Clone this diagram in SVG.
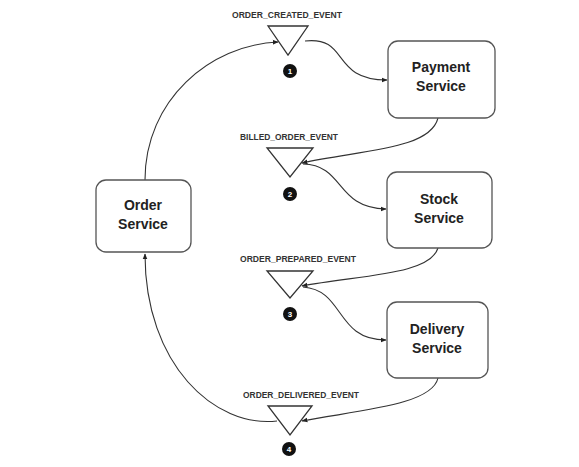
<svg xmlns="http://www.w3.org/2000/svg" width="579" height="467" viewBox="0 0 579 467">
<defs>
<marker id="ah" viewBox="0 0 10 10" refX="9" refY="5" markerWidth="6" markerHeight="6" orient="auto" markerUnits="userSpaceOnUse">
<path d="M0,1 L10,5 L0,9 z" fill="#222"/>
</marker>
<style>
.box{fill:#fff;stroke:#555;stroke-width:1.3}
.tri{fill:#fff;stroke:#333;stroke-width:1.3}
.conn{fill:none;stroke:#333;stroke-width:1.1;marker-end:url(#ah)}
.lbl{font-family:"Liberation Sans",Arial,sans-serif;font-size:14px;font-weight:bold;fill:#222;text-anchor:middle}
.evt{font-family:"Liberation Sans",Arial,sans-serif;font-size:9px;font-weight:bold;fill:#333;text-anchor:middle}
.num{font-family:"Liberation Sans",Arial,sans-serif;font-size:8px;font-weight:bold;fill:#fff;text-anchor:middle}
.dot{fill:#111}
</style>
</defs>
<rect width="579" height="467" fill="#fff"/>
<g id="connectors">
<path class="conn" d="M145,180 C145,100 210,45 278,42"/>
<path class="conn" d="M305,41 C350,36 330,80 387,80"/>
<path class="conn" d="M438,118 C430,150 360,150 302,163"/>
<path class="conn" d="M303,164 C345,165 335,208 386,209"/>
<path class="conn" d="M438,248 C430,275 360,275 302,286"/>
<path class="conn" d="M303,287 C345,290 335,340 386,340"/>
<path class="conn" d="M438,378 C432,405 360,410 302,421"/>
<path class="conn" d="M277,421 C215,428 145,365 145,254"/>
</g>
<g id="order-service">
<rect class="box" x="96" y="180" width="95" height="72" rx="10"/>
<text class="lbl" x="143" y="210">Order</text>
<text class="lbl" x="143" y="229">Service</text>
</g>
<g id="payment-service">
<rect class="box" x="388" y="41" width="107" height="77" rx="10"/>
<text class="lbl" x="441" y="72">Payment</text>
<text class="lbl" x="441" y="91">Service</text>
</g>
<g id="stock-service">
<rect class="box" x="387" y="172" width="105" height="76" rx="10"/>
<text class="lbl" x="439" y="204">Stock</text>
<text class="lbl" x="439" y="223">Service</text>
</g>
<g id="delivery-service">
<rect class="box" x="387" y="302" width="101" height="76" rx="10"/>
<text class="lbl" x="437" y="334">Delivery</text>
<text class="lbl" x="437" y="353">Service</text>
</g>
<g id="event-1">
<text class="evt" x="287" y="18" textLength="110" lengthAdjust="spacingAndGlyphs">ORDER_CREATED_EVENT</text>
<polygon class="tri" points="268,26 308,26 288,55"/>
<circle class="dot" cx="290" cy="71" r="7"/>
<text class="num" x="290" y="74">1</text>
</g>
<g id="event-2">
<text class="evt" x="289" y="140" textLength="98" lengthAdjust="spacingAndGlyphs">BILLED_ORDER_EVENT</text>
<polygon class="tri" points="267,148 313,148 290,177"/>
<circle class="dot" cx="290" cy="194" r="7"/>
<text class="num" x="290" y="197">2</text>
</g>
<g id="event-3">
<text class="evt" x="298" y="262" textLength="116" lengthAdjust="spacingAndGlyphs">ORDER_PREPARED_EVENT</text>
<polygon class="tri" points="267,271 313,271 290,298"/>
<circle class="dot" cx="290" cy="314" r="7"/>
<text class="num" x="290" y="317">3</text>
</g>
<g id="event-4">
<text class="evt" x="301" y="398" textLength="116" lengthAdjust="spacingAndGlyphs">ORDER_DELIVERED_EVENT</text>
<polygon class="tri" points="268,406 312,406 290,435"/>
<circle class="dot" cx="289" cy="449" r="7"/>
<text class="num" x="289" y="452">4</text>
</g>
</svg>
